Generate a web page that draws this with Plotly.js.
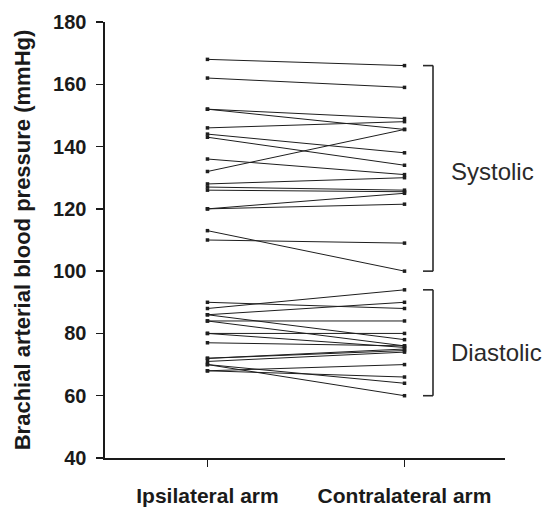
<!DOCTYPE html>
<html>
<head>
<meta charset="utf-8">
<script src="https://cdn.plot.ly/plotly-3.0.1.min.js"></script>
<style>html,body{margin:0;padding:0;background:#fff;}#chart{width:547px;height:508px;}</style>
</head>
<body>
<div id="chart"></div>
<script>
// Categories (x axis)
const arms = ['Ipsilateral arm', 'Contralateral arm'];
// Y tick values
const yTicks = [40, 60, 80, 100, 120, 140, 160, 180];
// Systolic pressure per subject (mmHg)
const systolicIpsi   = [168, 162, 152, 152, 146, 144, 143, 136, 132, 128, 127, 126, 120, 120, 113, 110];
const systolicContra = [166, 159, 149, 145.5, 148, 138, 134, 131, 145.5, 130, 126, 125.5, 125, 121.5, 100, 109];
// Diastolic pressure per subject (mmHg)
const diastolicIpsi   = [90, 88, 86, 86, 84, 84, 80, 80, 77, 72, 72, 71, 70, 70, 68, 68];
const diastolicContra = [88, 94, 90, 78, 84, 76, 80, 75.5, 76, 75, 74.5, 74, 60, 64, 70, 66];
const groupLabels = ['Systolic', 'Diastolic'];

const traces = [];
function addPairs(a, b) {
  for (let i = 0; i < a.length; i++) {
    traces.push({
      type: 'scatter', mode: 'lines+markers',
      x: arms, y: [a[i], b[i]],
      line: {color: '#1e1e1e', width: 1},
      marker: {color: '#1e1e1e', size: 3.5, symbol: 'square'},
      hoverinfo: 'skip', showlegend: false
    });
  }
}
addPairs(systolicIpsi, systolicContra);
addPairs(diastolicIpsi, diastolicContra);

const sTop = Math.max(...systolicContra), sBot = Math.min(...systolicContra);
const dTop = Math.max(...diastolicContra), dBot = Math.min(...diastolicContra);
function bracket(top, bot) {
  const st = {color: '#2a2a2a', width: 1.6};
  return [
    {type: 'line', xref: 'paper', yref: 'y', x0: 0.82, x1: 0.82, y0: bot, y1: top, line: st},
    {type: 'line', xref: 'paper', yref: 'y', x0: 0.795, x1: 0.82, y0: top, y1: top, line: st},
    {type: 'line', xref: 'paper', yref: 'y', x0: 0.795, x1: 0.82, y0: bot, y1: bot, line: st}
  ];
}

const fam = 'Arial, "Liberation Sans", Helvetica, sans-serif';
const layout = {
  width: 547, height: 508,
  margin: {l: 105, r: 42, t: 22, b: 50},
  paper_bgcolor: '#fff', plot_bgcolor: '#fff',
  showlegend: false,
  xaxis: {
    type: 'category', range: [-0.52, 1.51],
    showline: true, linecolor: '#1a1a1a', linewidth: 1.6,
    ticks: 'outside', ticklen: 7, tickwidth: 1.5, tickcolor: '#1a1a1a',
    showgrid: false, zeroline: false,
    tickfont: {family: fam, size: 21, color: '#1a1a1a', weight: 'bold'},
    ticklabelstandoff: 11
  },
  yaxis: {
    range: [40, 180], tickvals: yTicks,
    showline: true, linecolor: '#1a1a1a', linewidth: 1.6,
    ticks: 'outside', ticklen: 7, tickwidth: 1.5, tickcolor: '#1a1a1a',
    showgrid: false, zeroline: false,
    tickfont: {family: fam, size: 20, color: '#1a1a1a', weight: 'bold'},
    ticklabelstandoff: 6,
    title: {text: 'Brachial arterial blood pressure (mmHg)', standoff: 16,
            font: {family: fam, size: 22, color: '#1a1a1a', weight: 'bold'}}
  },
  shapes: bracket(sTop, sBot).concat(bracket(dTop, dBot)),
  annotations: [
    {xref: 'paper', yref: 'y', x: 0.86, y: 132, xanchor: 'left', yanchor: 'middle',
     text: groupLabels[0], showarrow: false, font: {family: fam, size: 24, color: '#2a2a2a'}},
    {xref: 'paper', yref: 'y', x: 0.86, y: 74, xanchor: 'left', yanchor: 'middle',
     text: groupLabels[1], showarrow: false, font: {family: fam, size: 24, color: '#2a2a2a'}}
  ]
};
Plotly.newPlot('chart', traces, layout, {displayModeBar: false, staticPlot: true});
</script>
</body>
</html>
